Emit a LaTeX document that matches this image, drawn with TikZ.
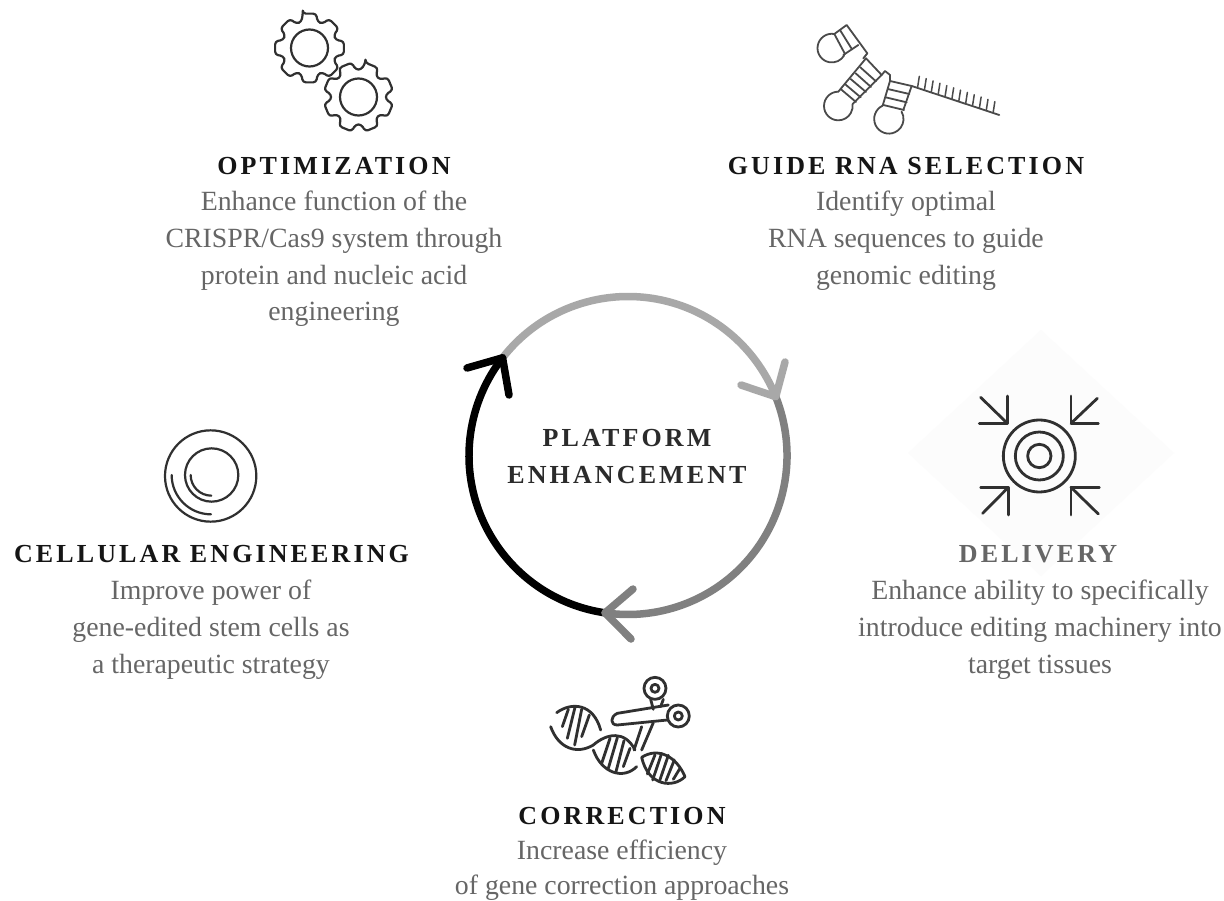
\documentclass[tikz,border=0pt]{standalone}
\usepackage{fontspec}
\setmainfont{Liberation Serif}
\newfontfamily\titlefont[LetterSpace=12,BoldFont={Liberation Serif Bold}]{Liberation Serif}
\definecolor{bodygrey}{HTML}{666666}
\definecolor{titleblack}{HTML}{151515}
\definecolor{deliverygrey}{HTML}{666666}
\definecolor{centerink}{HTML}{2B2B2B}
\definecolor{ringlight}{HTML}{A8A8A8}
\definecolor{ringmid}{HTML}{808080}
\definecolor{iconink}{HTML}{303030}
\definecolor{rnaink}{HTML}{4A4A4A}
\definecolor{faintdiamond}{HTML}{FCFCFC}
\tikzset{
  bodytext/.style={inner sep=0pt,align=center,text=bodygrey,font=\fontsize{27.8}{36.7}\selectfont,anchor=north},
  titletext/.style={inner sep=0pt,anchor=base,text=titleblack,font=\fontsize{26}{30}\selectfont\titlefont\bfseries},
  centertext/.style={inner sep=0pt,anchor=base,text=centerink,font=\fontsize{26}{30}\selectfont\titlefont\bfseries},
  ringarc/.style={line width=7.5pt,line cap=round},
  icon/.style={draw=iconink,line width=2.2pt,line cap=round,line join=round},
  rnaicon/.style={draw=rnaink,line width=1.8pt,line cap=round,line join=round},
  iconthick/.style={draw=iconink,line width=2.8pt,line cap=round,line join=round},
}
\usetikzlibrary{calc}
\newcommand{\gearpath}[3]{% cx, cy, offset
  \draw[icon,fill=white,rounded corners=3pt] ($(#1,#2)+(#3-11:35)$)
    \foreach \k in {0,45,...,315}{
      -- ($(#1,#2)+(#3+\k-11:35)$) -- ($(#1,#2)+(#3+\k+11:35)$) -- ($(#1,#2)+(#3+\k+17:27.5)$) -- ($(#1,#2)+(#3+\k+28:27.5)$)
    } -- cycle;
  \draw[icon] (#1,#2) circle[radius=18.5];
}
\begin{document}
\begin{tikzpicture}[x=1pt,y=-1pt]
\useasboundingbox (0,0) rectangle (1224,900);
\fill[white] (0,0) rectangle (1224,900);

% faint diamond behind delivery icon
\fill[faintdiamond] (1041,330) -- (1174,453) -- (1041,576) -- (908,453) -- cycle;

% ---- ring
\coordinate (ringc) at (628,455.5);
\coordinate (tipa) at ($(ringc)+(-21.7:159)$);
\coordinate (tipb) at ($(ringc)+(98.3:159)$);
\coordinate (tipc) at ($(ringc)+(217.9:159)$);
\coordinate (hao) at (785,362); \coordinate (hai) at (741,385);
\coordinate (hbo) at (633,589); \coordinate (hbi) at (631,639);
\coordinate (hco) at (467,368); \coordinate (hci) at (509,395);
\draw[ringarc,ringlight] (tipc) arc[start angle=217.9,end angle=338.3,radius=159];
\draw[ringarc,black] (tipb) arc[start angle=98.3,end angle=217.9,radius=159];
\draw[ringarc,black,line join=round] (hco) -- (tipc) -- (hci);
\draw[ringarc,ringmid] (tipa) arc[start angle=-21.7,end angle=98.3,radius=159];
\draw[ringarc,ringmid,line join=round] (hbo) -- (tipb) -- (hbi);
\draw[ringarc,ringlight,line join=round] (hao) -- (tipa) -- (hai);

% ---- centre label
\node[centertext] (platformone) at (627,446) {PLATFORM};
\node[centertext] (platformtwo) at (627,483) {ENHANCEMENT};

% ---- optimization
\gearpath{309.5}{48}{-90}
\gearpath{358.5}{97}{-67.5}
\node[titletext] (opttitle) at (334,174) {OPTIMIZATION};
\node[bodytext] (optbody) at (334,191) {Enhance function of the\\CRISPR/Cas9 system through\\protein and nucleic acid\\engineering};

% ---- guide RNA
\begin{scope}[shift={(790,10)},x=0.3333pt,y=-0.3333pt]
  \draw[rnaicon] (133,72) arc[start angle=-80,end angle=-329,radius=43];
  \draw[rnaicon] (133,72) -- (170,45) -- (232,130) -- (220,145);
  \draw[rnaicon] (160,135) -- (205,105);
  \draw[rnaicon] (133,72) -- (165,132);
  \draw[rnaicon] (150,60) -- (186,118);
  % second hairpin
  \draw[rnaicon] (145,245) arc[start angle=-90,end angle=-368,radius=43];
  \draw[rnaicon] (145,245) -- (228,145);
  \draw[rnaicon] (188,282) -- (275,195) -- (285,183) -- (300,195) -- (300,213);
  \draw[rnaicon] (228,145) -- (275,195);
  \draw[rnaicon] (211,172) -- (258,214);
  \draw[rnaicon] (197,190) -- (243,231);
  \draw[rnaicon] (182,207) -- (228,246);
  \draw[rnaicon] (167,224) -- (212,262);
  \draw[rnaicon] (153,238) -- (198,276);
  % third hairpin
  \draw[rnaicon] (278,287) arc[start angle=-115,end angle=-390,radius=44];
  \draw[rnaicon] (300,213) -- (278,287);
  \draw[rnaicon] (365,228) -- (340,300);
  \draw[rnaicon] (300,213) -- (365,228);
  \draw[rnaicon] (293,237) -- (358,252);
  \draw[rnaicon] (287,262) -- (350,277);
  \draw[rnaicon] (280,285) -- (342,300);
  % tail
  \draw[rnaicon] (365,228) -- (628,315);
  \foreach \i in {0,...,11}{
    \draw[rnaicon,line width=1.5pt] ({383+\i*20.6},{231+\i*6.9}) -- ++(5,-32);
  }
\end{scope}
\node[titletext] (guidetitle) at (906,174) {GUIDE RNA SELECTION};
\node[bodytext] (guidebody) at (906,191) {Identify optimal\\RNA sequences to guide\\genomic editing};

% ---- delivery
\begin{scope}[shift={(960,380)},x=0.3333pt,y=-0.3333pt]
  \draw[iconthick] (238,228) circle[radius=35];
  \draw[iconthick] (238,228) circle[radius=72];
  \draw[iconthick] (238,228) circle[radius=108];
  \draw[iconthick] (142,48) -- (142,130) -- (58,130);
  \draw[iconthick] (62,52) -- (142,130);
  \draw[iconthick] (333,48) -- (333,130) -- (415,130);
  \draw[iconthick] (412,55) -- (333,130);
  \draw[iconthick] (145,405) -- (145,322) -- (62,322);
  \draw[iconthick] (68,400) -- (145,322);
  \draw[iconthick] (333,322) -- (418,322);
  \draw[iconthick] (333,322) -- (333,405);
  \draw[iconthick] (333,322) -- (415,402);
\end{scope}
\node[titletext,text=deliverygrey] (deltitle) at (1038,562) {DELIVERY};
\node[bodytext] (delbody) at (1040,580) {Enhance ability to specifically\\introduce editing machinery into\\target tissues};

% ---- cellular engineering
\begin{scope}[shift={(150,420)},x=0.3333pt,y=-0.3333pt]
  \draw[iconthick,line width=2.2pt] (182,168) circle[radius=137];
  \draw[iconthick,line width=2.2pt] (185,165) circle[radius=80];
  \draw[iconthick,line width=2.2pt] (122,165) arc[start angle=180,end angle=90,radius=62];
  \draw[iconthick,line width=2.2pt] (65,165) arc[start angle=180,end angle=90,radius=118];
\end{scope}
\node[titletext] (celltitle) at (211.5,562) {CELLULAR ENGINEERING};
\node[bodytext] (cellbody) at (211,580) {Improve power of\\gene-edited stem cells as\\a therapeutic strategy};

% ---- correction
\begin{scope}[shift={(530,670)},x=0.3333pt,y=-0.3333pt]
  % DNA strands
  \draw[iconthick] (80,128) .. controls (125,95) and (190,100) .. (212,180);
  \draw[iconthick] (62,170) .. controls (85,235) and (140,255) .. (190,225) .. controls (230,190) and (285,180) .. (315,240);
  \draw[iconthick] (190,240) .. controls (215,310) and (280,330) .. (320,290);
  \draw[iconthick] (335,262) .. controls (385,230) and (440,260) .. (465,320) .. controls (430,355) and (355,350) .. (335,262);
  % hatches
  \draw[iconthick] (115,118) -- (97,170);
  \draw[iconthick] (135,112) -- (112,205);
  \draw[iconthick] (155,118) -- (134,225);
  \draw[iconthick] (178,135) -- (155,200);
  \draw[iconthick] (240,205) -- (215,280);
  \draw[iconthick] (262,203) -- (235,295);
  \draw[iconthick] (282,212) -- (258,305);
  \draw[iconthick] (300,235) -- (280,290);
  \draw[iconthick] (375,255) -- (352,312);
  \draw[iconthick] (395,250) -- (368,330);
  \draw[iconthick] (415,256) -- (388,335);
  \draw[iconthick] (433,270) -- (408,332);
  \draw[iconthick] (450,295) -- (430,328);
  % scissors
  \draw[iconthick] (375,55) circle[radius=33];
  \draw[iconthick] (375,55) circle[radius=12];
  \draw[iconthick] (445,138) circle[radius=33];
  \draw[iconthick] (445,138) circle[radius=12];
  \draw[iconthick] (415,105) -- (262,130) .. controls (240,140) and (240,165) .. (262,165) -- (412,150);
  \draw[iconthick] (362,88) -- (370,118);
  \draw[iconthick] (400,88) -- (392,110);
  \draw[iconthick] (335,170) -- (312,240);
  \draw[iconthick] (370,158) -- (335,240);
\end{scope}
\node[titletext] (cortitle) at (622,824) {CORRECTION};
\node[bodytext] (corbody) at (622,840) {Increase efficiency\\[-2pt]of gene correction approaches};
\end{tikzpicture}
\end{document}
